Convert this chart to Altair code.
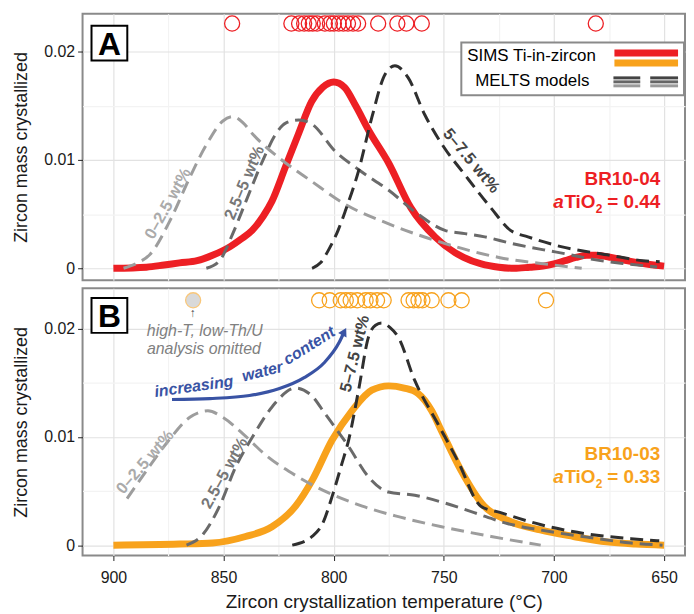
import altair as alt
import pandas as pd

# ---------------- data ----------------
# Panel A: BR10-04, SIMS Ti-in-zircon distribution
A_SIMS_T = [900, 885, 877, 870, 862, 855, 847, 842, 837, 832, 828, 822, 816, 810, 805, 800, 795, 790, 784, 775,
            765, 754, 741, 733, 725, 718, 711, 705, 700, 695, 690, 685, 681, 674, 667, 658, 650]
A_SIMS_V = [0, 0.0001, 0.0003, 0.0005, 0.0007, 0.0012, 0.0020, 0.0027, 0.0035, 0.0048, 0.0062, 0.0093, 0.0124,
            0.0154, 0.0167, 0.0172, 0.0167, 0.0150, 0.0127, 0.0097, 0.0056, 0.0029, 0.0010, 0.0004, 0.0001, 0.0000,
            0.0001, 0.0002, 0.0004, 0.0007, 0.0010, 0.0012, 0.0012, 0.0010, 0.0007, 0.0004, 0.0002]
# MELTS models, panel A
A_M1_T = [895.4, 889, 883.3, 874.3, 865.3, 857.8, 850.3, 845.8, 841, 836.8, 824.8, 809.8, 794.7, 775, 749.7, 725, 700, 687.4]
A_M1_V = [0, 0.0005, 0.0013, 0.0044, 0.0084, 0.0114, 0.0136, 0.0140, 0.0134, 0.0124, 0.0102, 0.0080, 0.0059, 0.0041,
          0.0023, 0.0010, 0.0003, 0.0000]
A_M2_T = [857.8, 851.8, 845.8, 839.8, 832.3, 826.3, 821.8, 815.8, 809.8, 799.3, 788.6, 775, 761.7, 749.5, 740.4,
          731.4, 719.4, 704.6, 693.8, 681.7, 666.7, 653.2]
A_M2_V = [0, 0.0007, 0.0032, 0.0062, 0.0099, 0.0124, 0.0134, 0.0137, 0.0133, 0.0108, 0.0091, 0.0072, 0.0050, 0.0035,
          0.0032, 0.0029, 0.0023, 0.0017, 0.0013, 0.0008, 0.0004, 0.00012]
A_M3_T = [809.8, 806, 802.3, 798, 794.7, 788.7, 782.7, 776.7, 772.2, 766.2, 758.7, 749.7, 740.7, 728.7, 719.7, 711.8,
          696.8, 674.6, 659.6, 652]
A_M3_V = [0, 0.0005, 0.0017, 0.0035, 0.0053, 0.0090, 0.0139, 0.0179, 0.0187, 0.0176, 0.0142, 0.0111, 0.0087, 0.0056,
          0.0035, 0.0029, 0.0020, 0.0012, 0.0007, 0.0006]
A_RUG_T = [846.1, 819.2, 815.7, 813.4, 811.3, 809.5, 807.5, 804.0, 801.7, 799.9, 797.7, 795.6, 793.5, 791.2, 788.9,
           779.8, 771.1, 767.0, 760.0, 681.0]

# Panel B: BR10-03
B_SIMS_T = [900, 870, 855, 840, 828, 817.3, 809.7, 800.7, 791.7, 782.7, 775, 768, 761.7, 755.5, 751.2, 742.2, 731.7,
            721.2, 706.2, 691.1, 676.1, 663, 650]
B_SIMS_V = [0, 0.0001, 0.0002, 0.0008, 0.0017, 0.0036, 0.0060, 0.0097, 0.0124, 0.0143, 0.0147, 0.0145, 0.0140, 0.0124,
            0.0106, 0.0069, 0.0036, 0.0023, 0.0014, 0.0008, 0.0003, 0.0001, 0.0]
B_M1_T = [893.8, 884.9, 875.9, 865.3, 857.1, 850.3, 841.3, 830.8, 817, 802, 787, 772, 751, 728.5, 706]
B_M1_V = [0.0043, 0.0069, 0.0094, 0.0118, 0.0124, 0.0118, 0.0103, 0.0083, 0.0064, 0.0048, 0.0036, 0.0027, 0.0017,
          0.0008, 0.0]
B_M2_T = [866.8, 859.3, 851.8, 844.3, 836.8, 827.8, 817.3, 810, 803.8, 793.2, 784.2, 775.2, 763.2, 749.7, 736.2, 721.2,
          706.2, 683.7, 665, 650.7]
B_M2_V = [0, 0.0010, 0.0036, 0.0073, 0.0100, 0.0128, 0.0145, 0.0138, 0.0121, 0.0091, 0.0063, 0.0049, 0.0046, 0.0039,
          0.0030, 0.0020, 0.0014, 0.0007, 0.0002, 0.0]
B_M3_T = [818.8, 809.8, 805, 800.7, 796.3, 793.2, 788.7, 784.2, 781, 778.2, 774.5, 770.7, 763.2, 752.7, 743.7, 733.2,
          724.2, 706.2, 683.7, 665, 652.2]
B_M3_V = [0, 0.0008, 0.0020, 0.0045, 0.0075, 0.0097, 0.0143, 0.0192, 0.0203, 0.0205, 0.0201, 0.0192, 0.0152, 0.0112,
          0.0078, 0.0036, 0.0030, 0.0019, 0.0010, 0.0006, 0.0004]
B_RUG_T = [806.6, 801.8, 796.8, 794.5, 792.3, 789.3, 785.5, 783.3, 780.3, 777.3, 766.0, 763.7, 761.5, 759.7, 755.5,
           747.9, 741.9, 703.6]
B_OMIT_T = [863.8]
RUG_V = 0.0226

# curved "increasing water content" arrow (annotation, panel B)
ARROW_T = [873.4, 856.2, 838.2, 824.6, 813.4, 804.3, 797.6, 795.2]
ARROW_V = [0.01344, 0.01353, 0.01381, 0.01445, 0.01546, 0.01683, 0.01867, 0.0197]

MODEL_NAMES = ["0–2.5 wt%", "2.5–5 wt%", "5–7.5 wt%"]

# ---------------- styles ----------------
FONT = "Liberation Sans"
RED = "#ed1f24"
ORANGE = "#f8a21c"
LIGHT = "#9d9d9d"
MED = "#6a6a6a"
DARK = "#2f2f2f"
BLUE = "#3953a4"

XS = alt.Scale(domain=[640.5, 914], reverse=True, nice=False, zero=False)
X_GRID = list(range(650, 901, 25))
Y_GRID = [0, 0.005, 0.01, 0.015, 0.02]
X_MAJOR = "datum.value % 50 === 0"
Y_MAJOR = "round(datum.value * 1000) % 10 === 0"


def gcol(test):
    return {"condition": {"test": test, "value": "#e2e2e2"}, "value": "#f3f3f3"}


def tcol(test):
    return {"condition": {"test": test, "value": "#222222"}, "value": "rgba(0,0,0,0)"}


X_AXIS_TOP = alt.Axis(values=X_GRID, labels=False, ticks=False, domain=False, title=None,
                      gridColor=gcol(X_MAJOR), gridWidth=1.2)
X_AXIS_BOT = alt.Axis(values=X_GRID, labelExpr=f"{X_MAJOR} ? datum.label : ''", domain=False,
                      tickColor=tcol(X_MAJOR), tickSize=5, labelPadding=9, labelFontSize=16,
                      gridColor=gcol(X_MAJOR), gridWidth=1.2,
                      title="Zircon crystallization temperature (°C)", titleFontSize=19, titlePadding=7)
Y_AXIS = alt.Axis(values=Y_GRID,
                  labelExpr=f"{Y_MAJOR} ? (datum.value === 0 ? '0' : format(datum.value, '.2f')) : ''",
                  domain=False, tickColor=tcol(Y_MAJOR), tickSize=5, labelPadding=3, labelFontSize=16,
                  gridColor=gcol(Y_MAJOR), gridWidth=1.2,
                  title="Zircon mass crystallized", titleFontSize=18, titlePadding=13)


def long_models(model_lists):
    rows = []
    for name, (ts, vs) in zip(MODEL_NAMES, model_lists):
        for t, v in zip(ts, vs):
            rows.append({"model": name, "T": t, "v": v})
    return pd.DataFrame(rows)


def enc(chart, ydom, xaxis):
    return chart.encode(
        x=alt.X("T:Q", scale=XS, axis=xaxis),
        y=alt.Y("v:Q", scale=alt.Scale(domain=ydom, nice=False, zero=False), axis=Y_AXIS),
    )


def label(text, x, y, size=15, color="#000", angle=0, align="center", baseline="middle",
          weight="bold", style="normal"):
    return alt.Chart(pd.DataFrame({"t": [text]})).mark_text(
        fontSize=size, color=color, angle=angle % 360, align=align, baseline=baseline,
        fontWeight=weight, fontStyle=style, font=FONT
    ).encode(text="t:N", x=alt.value(x), y=alt.value(y))


def box(x, x2, y, y2, fill="white", stroke="#000000", sw=2.0):
    mk = dict(fill=fill, strokeWidth=sw)
    if stroke:
        mk["stroke"] = stroke
    else:
        mk["strokeWidth"] = 0
    return alt.Chart(pd.DataFrame({"k": [0]})).mark_rect(**mk).encode(
        x=alt.value(x), x2=alt.value(x2), y=alt.value(y), y2=alt.value(y2))


def seg(x, x2, y, color, sw=3):
    return alt.Chart(pd.DataFrame({"k": [0]})).mark_rule(color=color, strokeWidth=sw).encode(
        x=alt.value(x), x2=alt.value(x2), y=alt.value(y))


def tio2(x_right, y, value, color):
    # "aTiO2 = value" with italic a and subscript 2
    return [
        label(f"= {value}", x_right, y, size=19, color=color, align="right"),
        label("2", x_right - 58, y + 7, size=12, color=color, align="right"),
        label("TiO", x_right - 65, y, size=19, color=color, align="right"),
        label("a", x_right - 97, y, size=19, color=color, align="right", style="italic"),
    ]


def panel(sims_t, sims_v, sims_color, models, rug_t, ydom, height, xaxis, extra_top):
    sims_df = pd.DataFrame({"T": sims_t, "v": sims_v})
    rug_df = pd.DataFrame({"T": rug_t, "v": [RUG_V] * len(rug_t)})
    sims = enc(alt.Chart(sims_df).mark_line(color=sims_color, strokeWidth=7, interpolate="monotone",
                                            strokeCap="butt"), ydom, xaxis)
    mdl = enc(alt.Chart(long_models(models)).mark_line(strokeWidth=3, strokeDash=[13, 7],
                                                        interpolate="monotone"), ydom, xaxis).encode(
        color=alt.Color("model:N", scale=alt.Scale(domain=MODEL_NAMES, range=[LIGHT, MED, DARK]), legend=None)
    )
    rug = enc(alt.Chart(rug_df).mark_point(shape="circle", filled=False, size=230, strokeWidth=1.3,
                                           color=sims_color, opacity=1), ydom, xaxis)
    layers = [sims, mdl, rug] + extra_top
    return alt.layer(*layers).properties(width=606, height=height)


# ---------------- panel A ----------------
YA = [-0.0011, 0.0235]
A_extra = [
    box(9, 45, 12, 47),
    label("A", 27, 31, size=32, color="#000"),
    box(381, 605, 29, 82, stroke="#8a8a8a"),
    label("SIMS Ti-in-zircon", 387, 43, size=17, weight="normal", align="left"),
    label("MELTS models", 395, 68, size=17, weight="normal", align="left"),
    box(535, 599, 36, 43, fill=RED, stroke=None),
    box(535, 599, 46, 53, fill=ORANGE, stroke=None),
    seg(534, 561, 64.5, "#444444"), seg(571, 599, 64.5, "#444444"),
    seg(534, 561, 68.5, "#666666"), seg(571, 599, 68.5, "#666666"),
    seg(534, 561, 72.5, "#9a9a9a"), seg(571, 599, 72.5, "#9a9a9a"),
    label("0–2.5 wt%", 86, 191, size=16.5, color="#ababab", angle=-61),
    label("2.5–5 wt%", 163, 170, size=16.5, color="#777777", angle=-67),
    label("5–7.5 wt%", 391, 148, size=16.5, color="#444444", angle=50),
    label("BR10-04", 581, 166, size=19, color=RED, align="right"),
] + tio2(581, 189, "0.44", RED)

panelA = panel(A_SIMS_T, A_SIMS_V, RED, [(A_M1_T, A_M1_V), (A_M2_T, A_M2_V), (A_M3_T, A_M3_V)],
               A_RUG_T, YA, 268, X_AXIS_TOP, A_extra)

# ---------------- panel B ----------------
YB = [-0.00096, 0.02372]
omit = enc(alt.Chart(pd.DataFrame({"T": B_OMIT_T, "v": [RUG_V]})).mark_point(
    shape="circle", filled=True, size=230, fill="#d9d9d9", stroke="#f9c77a", strokeWidth=1.3, opacity=1),
    YB, X_AXIS_BOT)
arrow = enc(alt.Chart(pd.DataFrame({"T": ARROW_T, "v": ARROW_V})).mark_line(
    color=BLUE, strokeWidth=3.2, interpolate="monotone"), YB, X_AXIS_BOT)
arrow_head = enc(alt.Chart(pd.DataFrame({"T": [ARROW_T[-1]], "v": [ARROW_V[-1]]})).mark_point(
    shape="triangle-up", filled=True, size=90, color=BLUE, opacity=1, angle=28), YB, X_AXIS_BOT)

B_extra = [
    omit, arrow, arrow_head,
    box(9, 45, 10, 45),
    label("B", 27, 29, size=32, color="#000"),
    label("↑", 111, 25, size=12, color="#555555", weight="normal"),
    label("high-T, low-Th/U", 123, 43, size=16, color="#808080", weight="normal", style="italic"),
    label("analysis omitted", 122, 61, size=16, color="#808080", weight="normal", style="italic"),
    label("increasing", 112, 99, size=16, color=BLUE, style="italic", angle=-8),
    label("water", 181, 84, size=16, color=BLUE, style="italic", angle=-14),
    label("content", 228, 58, size=16, color=BLUE, style="italic", angle=-32),
    label("0–2.5 wt%", 63, 175, size=16.5, color="#ababab", angle=-49),
    label("2.5–5 wt%", 143, 186, size=16.5, color="#777777", angle=-61),
    label("5–7.5 wt%", 274, 66, size=16.5, color="#444444", angle=-76),
    label("BR10-03", 581, 167, size=19, color=ORANGE, align="right"),
] + tio2(581, 190, "0.33", ORANGE)

panelB = panel(B_SIMS_T, B_SIMS_V, ORANGE, [(B_M1_T, B_M1_V), (B_M2_T, B_M2_V), (B_M3_T, B_M3_V)],
               B_RUG_T, YB, 269, X_AXIS_BOT, B_extra)

chart = alt.vconcat(panelA, panelB, spacing=3).properties(
    padding={"left": 3, "top": 2, "right": 0, "bottom": 0}
).configure_view(stroke="#8a8a8a", strokeWidth=2).configure_axis(
    labelFont=FONT, titleFont=FONT, labelColor="#1a1a1a", titleColor="#1a1a1a", titleFontWeight="normal"
)

chart.save("out.html", embed_options={"renderer": "svg", "actions": False})
